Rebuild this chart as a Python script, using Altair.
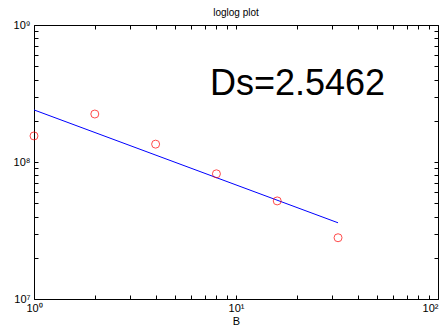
import altair as alt
import pandas as pd

# data
B = [1, 2, 4, 8, 16, 32]
C = [1.55e8, 2.24e8, 1.35e8, 8.2e7, 5.2e7, 2.8e7]
fit_B = [1, 32]
fit_C = [2.4e8, 3.6e7]
x_ticks = [1, 2, 3, 4, 5, 6, 7, 8, 9, 10, 20, 30, 40, 50, 60, 70, 80, 90, 100]
y_ticks = [1e7, 2e7, 3e7, 4e7, 5e7, 6e7, 7e7, 8e7, 9e7,
           1e8, 2e8, 3e8, 4e8, 5e8, 6e8, 7e8, 8e8, 9e8, 1e9]
annotation = ["Ds=2.5462"]
title = "loglog plot"
x_title = "B"

FONT = "Liberation Sans"

pts = pd.DataFrame({"B": B, "C": C})
fit = pd.DataFrame({"B": fit_B, "C": fit_C})
ann = pd.DataFrame({"t": annotation})

xs = alt.Scale(type="log", domain=[1, 100], nice=False)
ys = alt.Scale(type="log", domain=[1e7, 1e9], nice=False)

x_lab = "datum.value == 1 ? '10⁰' : datum.value == 10 ? '10¹' : datum.value == 100 ? '10²' : ''"
y_lab = ("datum.value == 10000000 ? '10⁷' : datum.value == 100000000 ? '10⁸' : "
         "datum.value == 1000000000 ? '10⁹' : ''")

common = dict(tickSize=4, offset=-4, domain=False, grid=False, tickColor="#000",
              tickWidth=1, labelColor="#000", labelFont=FONT, labelFontSize=11,
              titleFont=FONT, titleFontWeight="normal", titleColor="#000",
              titleFontSize=11)

line = alt.Chart(fit).mark_line(color="#0000ff", strokeWidth=1).encode(
    x=alt.X("B:Q", scale=xs,
            axis=alt.Axis(orient="bottom", values=x_ticks, labelExpr=x_lab,
                          labelAlign={"condition": {"test": "datum.value == 100",
                                                    "value": "right"},
                                      "value": "center"},
                          labelPadding=3, title=x_title, titlePadding=2,
                          labelFlush=False, labelOverlap=False, **common)),
    y=alt.Y("C:Q", scale=ys,
            axis=alt.Axis(orient="left", values=y_ticks, labelExpr=y_lab,
                          labelPadding=4, title=None, labelOverlap=False,
                          labelFlush=False, **common)),
)

points = alt.Chart(pts).mark_point(shape="circle", filled=False, color="#ff0000",
                                   size=64, strokeWidth=1).encode(
    x=alt.X("B:Q", scale=xs,
            axis=alt.Axis(orient="top", values=x_ticks, labels=False, title=None,
                          **common)),
    y=alt.Y("C:Q", scale=ys,
            axis=alt.Axis(orient="right", values=y_ticks, labels=False, title=None,
                          **common)),
)

text = alt.Chart(ann).mark_text(fontSize=36, font=FONT, align="left",
                                baseline="alphabetic", color="#000").encode(
    text="t:N", x=alt.value(176), y=alt.value(70))

chart = alt.layer(line, points, text).resolve_axis(
    x="independent", y="independent"
).properties(
    width=404, height=274,
    title=alt.TitleParams(title, font=FONT, fontSize=10, fontWeight="normal",
                          color="#000", offset=1, anchor="middle"),
    autosize=alt.AutoSizeParams(type="none"),
    padding={"left": 26, "top": 17, "right": 1, "bottom": 33},
).configure_view(stroke="#000", strokeWidth=1)

chart.save("out.html", embed_options={"renderer": "svg", "actions": False})
